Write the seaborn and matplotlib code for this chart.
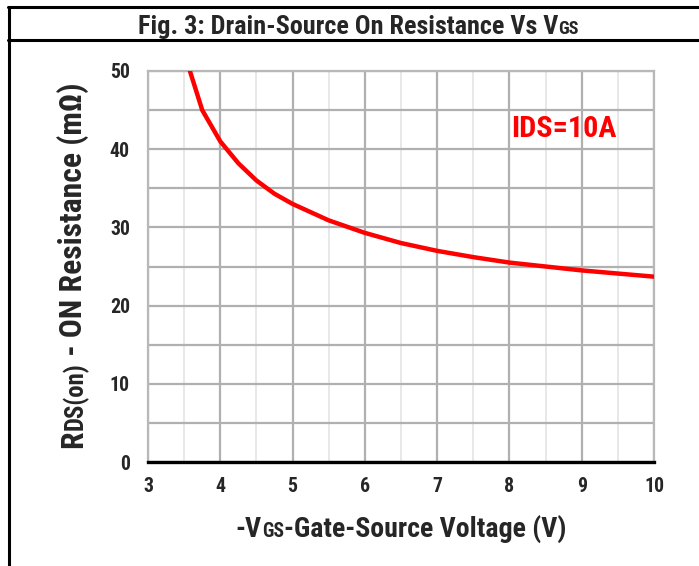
import numpy as np
import pandas as pd
import seaborn as sns
import matplotlib
matplotlib.use("Agg")
import matplotlib.pyplot as plt
from matplotlib import font_manager
from matplotlib.lines import Line2D

vgs = [3.58, 3.75, 4.0, 4.25, 4.5, 4.75, 5.0, 5.5, 6.0, 6.5, 7.0, 7.5, 8.0, 8.5, 9.0, 9.5, 10.0]
rds = [50.0, 45.0, 41.0, 38.2, 36.0, 34.3, 33.0, 30.9, 29.3, 28.0, 27.0, 26.2, 25.5, 25.0, 24.5, 24.1, 23.7]
x_ticks = [3, 4, 5, 6, 7, 8, 9, 10]
y_ticks = [0, 10, 20, 30, 40, 50]
annotation = "IDS=10A"

sns.set_theme(style="white")


def wnum(w):
    if isinstance(w, (int, float)):
        return w
    return font_manager.weight_dict.get(str(w), 400)


bold_names = {f.name for f in font_manager.fontManager.ttflist if wnum(f.weight) >= 650}
prefs = ["Arial Narrow", "Liberation Sans Narrow", "Archivo Narrow", "Roboto Condensed",
         "PT Sans Narrow", "Fira Sans Condensed", "IBM Plex Sans Condensed",
         "Encode Sans Condensed", "Asap Condensed", "Sofia Sans Condensed",
         "Barlow Semi Condensed", "Pragati Narrow", "Liberation Sans"]
fam = next((p for p in prefs if p in bold_names), "Liberation Sans")
plt.rcParams["font.family"] = [fam, "DejaVu Sans"]
plt.rcParams["font.weight"] = "bold"

W, H = 699, 566
fig = plt.figure(figsize=(W / 100, H / 100), dpi=100)
renderer = fig.canvas.get_renderer()


def width_at(t, size):
    tt = fig.text(0, 0, t, fontsize=size, fontweight="bold")
    w = tt.get_window_extent(renderer).width
    tt.remove()
    return w


def fit_size(t, target_w, base=20.0):
    return base * target_w / width_at(t, base)


tick_size = fit_size("10", 20)
ax = fig.add_axes([148 / W, 1 - 462 / H, (654 - 148) / W, (462 - 71) / H])

df = pd.DataFrame({"vgs": vgs, "rds": rds})
sns.lineplot(data=df, x="vgs", y="rds", ax=ax, color="#ff0000", lw=3.2, zorder=5)

ax.set_xlim(3, 10)
ax.set_ylim(0, 50)
ax.set_xticks(x_ticks)
ax.set_yticks(y_ticks)
ax.set_xticks(np.arange(3.5, 10, 1.0), minor=True)
ax.set_yticks(np.arange(5, 50, 10), minor=True)
ax.grid(which="major", axis="both", color="#b0b0b0", lw=1.6)
ax.grid(which="minor", axis="x", color="#e4e4e4", lw=1.2)
ax.grid(which="minor", axis="y", color="#b0b0b0", lw=1.6)
ax.set_axisbelow(True)
for s in ["top", "right", "left"]:
    ax.spines[s].set_color("#b8b8b8")
    ax.spines[s].set_linewidth(1.6)
ax.spines["bottom"].set_color("black")
ax.spines["bottom"].set_linewidth(2.4)
ax.spines["bottom"].set_zorder(6)
ax.tick_params(axis="both", which="both", length=0)
ax.tick_params(axis="x", pad=11, labelsize=tick_size)
ax.tick_params(axis="y", pad=13, labelsize=tick_size)
for lab in ax.get_xticklabels() + ax.get_yticklabels():
    lab.set_fontweight("bold")
ax.set_xlabel("")
ax.set_ylabel("")

ax.text(8.02, 42.6, annotation, color="#ff0000", fontsize=fit_size(annotation, 105),
        fontweight="bold", ha="left", va="center", zorder=7)

# Frame lines
fig.add_artist(Line2D([8.5 / W, 8.5 / W], [1 - 7 / H, 0], color="black", lw=2.2, transform=fig.transFigure))
fig.add_artist(Line2D([8 / W, 1], [1 - 7 / H, 1 - 7 / H], color="black", lw=2.2, transform=fig.transFigure))
fig.add_artist(Line2D([8 / W, 1], [1 - 40 / H, 1 - 40 / H], color="black", lw=2.2, transform=fig.transFigure))


def pieces(parts, cx, cy, target_w, rotation=0, small_ratio=0.7):
    # parts: list of (text, is_small)
    base = 20.0
    tot = sum(width_at(t, base * (small_ratio if sm else 1.0)) for t, sm in parts)
    big = base * target_w / tot
    texts, widths = [], []
    for t, sm in parts:
        s = big * (small_ratio if sm else 1.0)
        tt = fig.text(0, 0, t, fontsize=s, fontweight="bold", ha="left", va="baseline")
        widths.append(tt.get_window_extent(renderer).width)
        texts.append(tt)
    total = sum(widths)
    capc = big * 100 / 72 * 0.36
    pos = -total / 2
    for tt, w in zip(texts, widths):
        if rotation == 0:
            x = cx + pos
            y = (H - cy) - capc
        else:
            x = cx + capc
            y = (H - cy) + pos
        tt.set_rotation(rotation)
        tt.set_rotation_mode("anchor")
        tt.set_position((x / W, y / H))
        pos += w


pieces([("Fig. 3: Drain-Source On Resistance Vs V", False), ("GS", True)], 358, 25, 440)
pieces([("-V", False), ("GS", True), ("-Gate-Source Voltage (V)", False)], 401, 527, 331)
pieces([("R", False), ("DS(on)", True), (" - ON Resistance (m\u03a9)", False)], 71, 265, 366,
       rotation=90, small_ratio=0.78)

fig.savefig("out.png", dpi=100)
